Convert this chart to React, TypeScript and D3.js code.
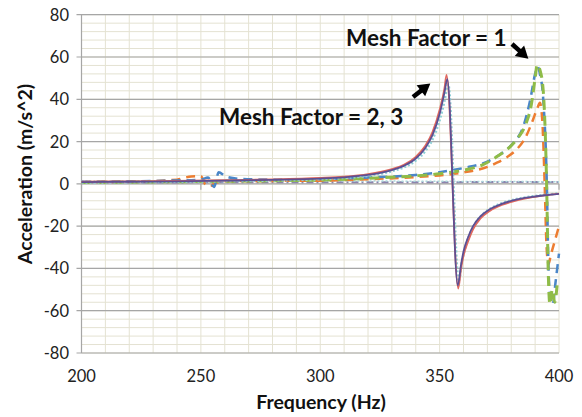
import React from "react";
import * as d3 from "d3";

const W = 582;
const H = 417;
const M = { left: 81.5, right: 559, top: 14.7, bottom: 353 };

const xTicks = [200, 250, 300, 350, 400];
const yTicks = [-80, -60, -40, -20, 0, 20, 40, 60, 80];

// Mesh Factor = 2, 3 (solid / dotted)
const mf2PurpleF = [200, 220, 240, 260, 280, 300, 310, 320, 330, 335, 340, 344, 347, 350, 352, 353.2, 357.6, 359, 360, 362, 364, 367, 371, 376, 382, 388, 394, 400];
const mf2PurpleV = [0.8, 1.0, 1.2, 1.5, 1.9, 2.5, 3.1, 4.2, 6.5, 8.5, 12, 17, 23, 33, 43, 49.5, -48, -38, -32, -25, -20, -15.5, -12, -9.5, -7.5, -6.3, -5.4, -4.7];
const mf2RedF = [200, 220, 240, 260, 280, 300, 310, 320, 330, 335, 340, 344, 347, 350, 352, 352.9, 357.8, 359, 360, 362, 364, 367, 371, 376, 382, 388, 394, 400];
const mf2RedV = [1.0, 1.2, 1.4, 1.7, 2.1, 2.8, 3.4, 4.6, 7.0, 9.0, 12.8, 18, 24.5, 35, 45, 51.5, -49.5, -40, -34, -27, -21.5, -16.5, -12.8, -10, -7.9, -6.5, -5.5, -4.6];
const mf2TealF = [200, 220, 240, 260, 280, 300, 310, 320, 330, 335, 340, 344, 347, 350, 352, 353.6, 358, 359.5, 361, 363, 365, 368, 372, 377, 383, 389, 395, 400];
const mf2TealV = [0.6, 0.8, 1.0, 1.3, 1.6, 2.2, 2.8, 3.8, 6.0, 7.8, 11, 15.5, 21, 30, 39, 47, -46, -36, -29, -23, -18.5, -14.5, -11.2, -8.8, -7, -5.9, -5.1, -4.5];

// Mesh Factor = 1 (dashed)
const mf1BlueF = [200, 220, 240, 250, 253, 255.5, 257.5, 260, 264, 270, 280, 300, 320, 340, 350, 360, 370, 376, 381, 385, 388, 390, 391, 392, 393.4, 394.9, 395.6, 396.5, 397.4, 398.5, 400];
const mf1BlueV = [1.0, 1.2, 1.6, 2.0, 3.0, -1.5, 5.5, 3.8, 2.6, 2.2, 2.0, 2.3, 3.0, 4.2, 5.5, 7.5, 10.5, 14.5, 19.5, 27, 40, 52, 55.5, 52, 40, 0, -40, -55, -57, -47, -33];
const mf1OrangeF = [200, 220, 240, 246, 250, 252, 254, 256, 260, 280, 300, 320, 340, 350, 360, 370, 374, 378, 382, 386, 389, 391, 392, 393, 394, 394.8, 395.6, 396.5, 398, 400];
const mf1OrangeV = [0.8, 1.0, 2.0, 3.5, 3.6, -0.5, -1.0, 0.5, 1.2, 1.4, 1.5, 2.2, 3.2, 4.0, 5.4, 8.0, 10, 12.5, 16, 22, 30, 36, 38.3, 30, 0, -30, -38, -34, -28, -20];
const mf1GreenF = [200, 220, 240, 260, 280, 300, 320, 340, 350, 360, 368, 374, 379, 383, 386, 388.5, 390, 390.9, 392, 393.4, 394.8, 395.5, 396.2, 397.2, 398.2, 399.2];
const mf1GreenV = [0.6, 0.8, 1.0, 1.2, 1.5, 1.8, 2.6, 3.8, 4.8, 6.5, 9.0, 12.9, 17, 22, 28, 38, 50, 56.3, 54, 44, 0.5, -42, -57, -50, -56, -48];

// near-zero reference traces
const baseF = [200, 250, 300, 350, 400];
const baseV = [0.6, 0.7, 0.7, 0.8, 0.9];
const tealBaseV = [1.3, 1.4, 1.4, 1.2, 1.0];

const series = [
  { name: "base", f: baseF, v: baseV, color: "#8c84ad", width: 2, dash: "7,3,2,3" },
  { name: "tealBase", f: baseF, v: tealBaseV, color: "#a9d9dc", width: 1.5, dash: "2,2" },
  { name: "mf1Orange", f: mf1OrangeF, v: mf1OrangeV, color: "#ed7d31", width: 2.5, dash: "9,6" },
  { name: "mf1Blue", f: mf1BlueF, v: mf1BlueV, color: "#4a86c8", width: 2.5, dash: "9,6" },
  { name: "mf1Green", f: mf1GreenF, v: mf1GreenV, color: "#8fbc48", width: 3, dash: "10,6" },
  { name: "mf2Teal", f: mf2TealF, v: mf2TealV, color: "#8fcfd6", width: 2.5, dash: "2,2" },
  { name: "mf2Red", f: mf2RedF, v: mf2RedV, color: "#e0685e", width: 1.8, dash: "" },
  { name: "mf2Purple", f: mf2PurpleF, v: mf2PurpleV, color: "#5d4f93", width: 1.8, dash: "" },
];

export default function App() {
  const x = d3.scaleLinear().domain([200, 400]).range([M.left, M.right]);
  const y = d3.scaleLinear().domain([-80, 80]).range([M.bottom, M.top]);

  const minorX = d3.range(200, 401, 10);
  const minorY = d3.range(-80, 81, 4);

  const font = "Lato, 'Open Sans', sans-serif";

  return (
    <svg width={W} height={H} style={{ position: "absolute", left: 0, top: 0, background: "#fff" }}>
      <rect x={0} y={0} width={W} height={H} fill="#fff" />
      {minorY.map((t) => (
        <line key={"my" + t} x1={M.left} x2={M.right} y1={y(t)} y2={y(t)} stroke="#e4e2d2" strokeWidth={1} />
      ))}
      {minorX.map((t) => (
        <line key={"mx" + t} x1={x(t)} x2={x(t)} y1={M.top} y2={M.bottom} stroke="#e4e2d2" strokeWidth={1} />
      ))}
      {yTicks.map((t) => (
        <line key={"gy" + t} x1={M.left - 5} x2={M.right} y1={y(t)} y2={y(t)} stroke="#a6a6a6" strokeWidth={1.2} />
      ))}
      <line x1={M.left} x2={M.left} y1={M.top} y2={M.bottom} stroke="#a6a6a6" strokeWidth={1.2} />
      {xTicks.map((t) => (
        <line key={"tx" + t} x1={x(t)} x2={x(t)} y1={y(0)} y2={y(0) + 6} stroke="#a6a6a6" strokeWidth={1.2} />
      ))}
      {yTicks.map((t) => (
        <text key={"ly" + t} x={69} y={y(t)} dy="0.36em" textAnchor="end" fontFamily={font} fontSize={16.5} fill="#222">
          {t}
        </text>
      ))}
      {xTicks.map((t) => (
        <text key={"lx" + t} x={x(t)} y={382} textAnchor="middle" fontFamily={font} fontSize={16.5} fill="#222">
          {t}
        </text>
      ))}
      {series.map((s) => {
        const pts: [number, number][] = s.f.map((f, i) => [x(f), y(s.v[i])]);
        const path = d3.line().curve(d3.curveMonotoneX)(pts) || "";
        return (
          <path key={s.name} d={path} fill="none" stroke={s.color} strokeWidth={s.width} strokeDasharray={s.dash || undefined} strokeLinejoin="round" />
        );
      })}
      <text x={321} y={409} textAnchor="middle" fontFamily={font} fontSize={19.5} fontWeight="bold" fill="#111">
        Frequency (Hz)
      </text>
      <text transform={`translate(32,${174}) rotate(-90)`} textAnchor="middle" fontFamily={font} fontSize={19.5} fontWeight="bold" fill="#111">
        Acceleration (m/s^2)
      </text>
      <text x={346} y={46} fontFamily={font} fontSize={22.5} fontWeight="bold" fill="#111">
        Mesh Factor = 1
      </text>
      <text x={219} y={125} fontFamily={font} fontSize={22.5} fontWeight="bold" fill="#111">
        Mesh Factor = 2, 3
      </text>
      <g transform="translate(413,97) rotate(-38)">
        <line x1={0} x2={14} y1={0} y2={0} stroke="#000" strokeWidth={4.5} />
        <path d="M10,-7 L22,0 L10,7 Z" fill="#000" />
      </g>
      <g transform="translate(512,44) rotate(42)">
        <line x1={0} x2={14} y1={0} y2={0} stroke="#000" strokeWidth={4.5} />
        <path d="M10,-7 L22,0 L10,7 Z" fill="#000" />
      </g>
    </svg>
  );
}
